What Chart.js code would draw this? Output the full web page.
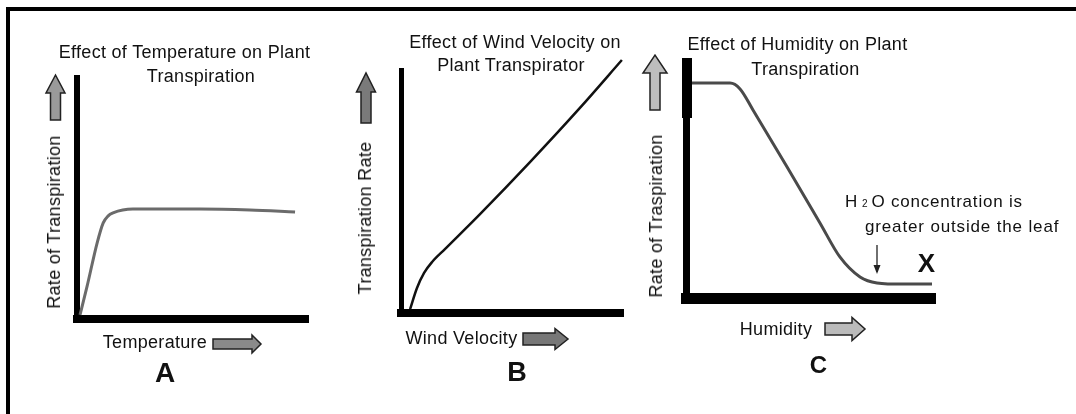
<!DOCTYPE html>
<html>
<head>
    <title>Plant Transpiration Graphs</title>
    <script src="https://cdn.jsdelivr.net/npm/chart.js"></script>
    <style>
        body { margin: 0; background: #fff; }
        #page { position: relative; width: 1076px; height: 414px; overflow: hidden; background: #fff;
                font-family: "Liberation Sans", Arial, sans-serif; color: #111; }
        #frame { position: absolute; left: 6px; top: 7px; width: 1100px; height: 420px;
                 border-top: 4px solid #000; border-left: 4px solid #000; }
        canvas { position: absolute; left: 0; top: 0; }
        .lbl { position: absolute; white-space: nowrap; font-size: 18px; line-height: 18px; letter-spacing: 0.3px; }
    </style>
</head>
<body>
<div id="page">
    <div id="frame"></div>
    <canvas id="chartA" width="1076" height="414"></canvas>
    <canvas id="chartB" width="1076" height="414"></canvas>
    <canvas id="chartC" width="1076" height="414"></canvas>
</div>

<script>
    // curve values (0-100 on both axes, no units on the original)
    const tempX = [1.3, 4.3, 8.7, 11.3, 13.4, 15.6, 24.2, 53.2, 74.9, 94.4];
    const tempY = [1.7, 13.3, 31.5, 39.8, 42.7, 44.0, 45.6, 45.6, 45.2, 44.4];

    const windX = [4.1, 7.2, 10.4, 14.0, 19.8, 35.6, 58.1, 80.6, 99.5];
    const windY = [1.6, 10.3, 16.5, 21.0, 26.3, 40.7, 62.1, 84.4, 104.1];

    const humidX = [2.4, 17.7, 21.7, 26.9, 40.6, 53.8, 61.8, 69.9, 76.7, 87.1, 98.8];
    const humidY = [91.1, 91.1, 88.6, 79.7, 55.5, 31.8, 17.4, 8.9, 6.4, 5.9, 5.9];

    const titlesA = ['Effect of Temperature on Plant', 'Transpiration'];
    const titlesB = ['Effect of Wind Velocity on', 'Plant Transpirator'];
    const titlesC = ['Effect of Humidity on Plant', 'Transpiration'];
    const yTitles = ['Rate of Transpiration', 'Transpiration Rate', 'Rate of Traspiration'];
    const xTitles = ['Temperature', 'Wind Velocity', 'Humidity'];
    const panelNames = ['A', 'B', 'C'];
    const noteLines = ['concentration is', 'greater outside the leaf'];

    const W = 1076, H = 414;

    // block arrows: [x1, y1, x2, y2, shaftWidth, headWidth, headLength, fill]
    const decor = {
        chartA: [[55.5, 120, 55.5, 75, 10, 19, 18, '#9a9a9a'], [213, 344, 261, 344, 10, 18, 9, '#8a8a8a']],
        chartB: [[366, 123, 366, 73, 10, 19, 19, '#7a7a7a'], [523, 339, 568, 339, 12, 21, 13, '#777777']],
        chartC: [[655, 110, 655, 55, 10, 24, 18, '#bdbdbd'], [825, 329, 865, 329, 12, 23, 13, '#bbbbbb']]
    };

    function blockArrow(ctx, a) {
        const [x1, y1, x2, y2, sw, hw, hl, fill] = a;
        const len = Math.hypot(x2 - x1, y2 - y1);
        const dx = (x2 - x1) / len, dy = (y2 - y1) / len;
        const nx = -dy, ny = dx;
        const nkx = x2 - dx * hl, nky = y2 - dy * hl;
        ctx.beginPath();
        ctx.moveTo(x1 + nx * sw / 2, y1 + ny * sw / 2);
        ctx.lineTo(nkx + nx * sw / 2, nky + ny * sw / 2);
        ctx.lineTo(nkx + nx * hw / 2, nky + ny * hw / 2);
        ctx.lineTo(x2, y2);
        ctx.lineTo(nkx - nx * hw / 2, nky - ny * hw / 2);
        ctx.lineTo(nkx - nx * sw / 2, nky - ny * sw / 2);
        ctx.lineTo(x1 - nx * sw / 2, y1 - ny * sw / 2);
        ctx.closePath();
        ctx.fillStyle = fill;
        ctx.fill();
        ctx.lineWidth = 1.5;
        ctx.strokeStyle = '#222';
        ctx.stroke();
    }

    const arrowPlugin = {
        id: 'arrows',
        afterDraw(chart) {
            const ctx = chart.ctx;
            ctx.save();
            (decor[chart.canvas.id] || []).forEach(a => blockArrow(ctx, a));
            if (chart.canvas.id === 'chartC') {
                // thicker top part of the humidity y axis
                ctx.fillStyle = '#000';
                ctx.fillRect(682, 58, 10, 60);
                // small pointer arrow under the note
                ctx.strokeStyle = '#222';
                ctx.lineWidth = 1.3;
                ctx.beginPath();
                ctx.moveTo(877, 245);
                ctx.lineTo(877, 272);
                ctx.stroke();
                ctx.fillStyle = '#222';
                ctx.beginPath();
                ctx.moveTo(873.5, 265);
                ctx.lineTo(880.5, 265);
                ctx.lineTo(877, 274);
                ctx.closePath();
                ctx.fill();
            }
            ctx.restore();
        }
    };

    function makePanel(id, xs, ys, area, style) {
        const points = xs.map((x, i) => ({ x: x, y: ys[i] }));
        return new Chart(document.getElementById(id), {
            type: 'line',
            data: {
                datasets: [{
                    data: points,
                    borderColor: style.color,
                    borderWidth: style.width,
                    pointRadius: 0,
                    fill: false,
                    cubicInterpolationMode: 'monotone',
                    clip: false
                }]
            },
            options: {
                responsive: false,
                animation: false,
                events: [],
                layout: { padding: { left: area.left, top: area.top, right: W - area.right, bottom: H - area.bottom } },
                plugins: { legend: { display: false }, title: { display: false }, tooltip: { enabled: false } },
                scales: {
                    x: {
                        type: 'linear', min: 0, max: 100,
                        ticks: { display: false },
                        grid: { display: false, drawTicks: false },
                        border: { display: true, width: style.xAxis, color: '#000' }
                    },
                    y: {
                        type: 'linear', min: 0, max: 100,
                        ticks: { display: false },
                        grid: { display: false, drawTicks: false },
                        border: { display: true, width: style.yAxis, color: '#000' }
                    }
                }
            },
            plugins: [arrowPlugin]
        });
    }

    makePanel('chartA', tempX, tempY, { left: 77, top: 78, right: 308, bottom: 319 },
        { color: '#6b6b6b', width: 3, xAxis: 8, yAxis: 6 });
    makePanel('chartB', windX, windY, { left: 401, top: 70, right: 623, bottom: 313 },
        { color: '#111', width: 2.5, xAxis: 8, yAxis: 5 });
    makePanel('chartC', humidX, humidY, { left: 686, top: 62, right: 935, bottom: 298 },
        { color: '#4a4a4a', width: 3, xAxis: 11, yAxis: 7 });

    // text labels (real text on top of the canvases)
    const page = document.getElementById('page');
    function label(html, x, base, opt) {
        opt = opt || {};
        const size = opt.size || 18;
        const el = document.createElement('div');
        el.className = 'lbl';
        el.innerHTML = html;
        el.style.fontSize = size + 'px';
        el.style.lineHeight = size + 'px';
        if (opt.bold) el.style.fontWeight = 'bold';
        if (opt.spacing !== undefined) el.style.letterSpacing = opt.spacing + 'px';
        if (opt.rotate) {
            el.style.left = x + 'px';
            el.style.top = base + 'px';
            el.style.transform = 'translate(-50%, -50%) rotate(-90deg)';
        } else {
            el.style.left = x + 'px';
            el.style.top = (base - 0.8465 * size) + 'px';
            if (!opt.left) el.style.transform = 'translateX(-50%)';
        }
        page.appendChild(el);
    }

    label(titlesA[0], 184.5, 58);
    label(titlesA[1], 201, 82);
    label(titlesB[0], 515, 48);
    label(titlesB[1], 511, 71);
    label(titlesC[0], 797.5, 50);
    label(titlesC[1], 805.5, 75);

    label(yTitles[0], 54, 221.5, { rotate: true });
    label(yTitles[1], 365, 217.5, { rotate: true });
    label(yTitles[2], 655.5, 216, { rotate: true });

    label(xTitles[0], 155, 348);
    label(xTitles[1], 461.5, 344);
    label(xTitles[2], 776, 335);

    label(panelNames[0], 165, 383, { size: 28, bold: true, spacing: 0 });
    label(panelNames[1], 517, 382, { size: 27, bold: true, spacing: 0 });
    label(panelNames[2], 818.5, 373, { size: 24, bold: true, spacing: 0 });

    label('H<span style="font-size:10px;margin:0 3px 0 4px">2</span>O ' + noteLines[0], 845, 207, { left: true, size: 17, spacing: 0.8 });
    label(noteLines[1], 865, 232, { left: true, size: 17, spacing: 0.85 });
    label('X', 926.5, 272, { size: 26, bold: true, spacing: 0 });
</script>
</body>
</html>
